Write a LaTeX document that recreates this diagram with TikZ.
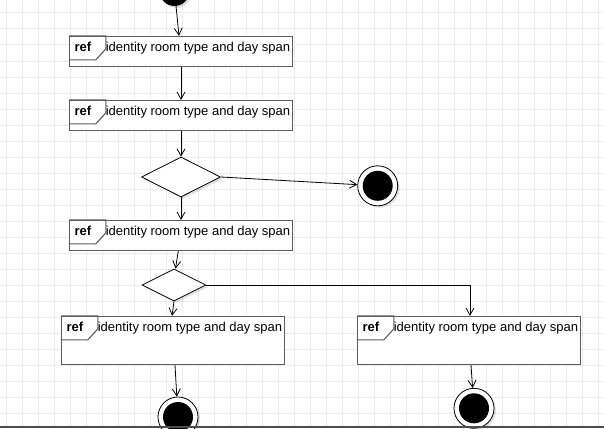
\documentclass[tikz,border=0pt]{standalone}
\usepackage{fontspec}
\setmainfont{Liberation Sans}
\usetikzlibrary{arrows.meta, shapes.geometric, shadows}
\definecolor{gridgray}{HTML}{EBEBEB}
\definecolor{framegray}{HTML}{5C5C5C}
\definecolor{bargray}{HTML}{4D4D4D}
\newcommand{\reflabel}{identity room type and day span}

\begin{document}
\begin{tikzpicture}[
		x=1pt, y=-1pt,
		>={Straight Barb[length=7pt,width=8pt]},
		font=\fontsize{13}{15}\selectfont,
		refbox/.style={rectangle, draw=framegray, line width=1.3pt, fill=white, minimum width=223pt, inner sep=0pt},
		tabline/.style={draw=framegray, line width=1.1pt},
		softshadow/.style={drop shadow={shadow xshift=2pt, shadow yshift=-2pt, fill=black, opacity=0.12}},
		choice/.style={diamond, draw, line width=0.8pt, fill=white, inner sep=0pt, softshadow},
		start/.style={circle, fill=black, minimum size=30pt, inner sep=0pt, softshadow},
		final/.style={circle, draw, line width=0.8pt, fill=white, minimum size=40pt, inner sep=0pt, softshadow,
			path picture={\fill[black] (path picture bounding box.center) circle (15pt);}},
		flow/.style={->, black, line width=0.8pt},
		reftag/.style={anchor=base west, inner sep=0pt, font=\fontsize{13}{15}\selectfont\bfseries},
		reftext/.style={anchor=base west, inner sep=0pt}]

	\useasboundingbox (0,0) rectangle (604,428);

	% grid
	\foreach \gx in {6,22,...,598}
		\draw[gridgray, line width=1pt] (\gx,0) -- (\gx,428);
	\foreach \gy in {13,29,...,413}
		\draw[gridgray, line width=1pt] (0,\gy) -- (604,\gy);

	% nodes
	\node[start] (init) at (174.5,-9) {};
	\node[refbox, minimum height=30pt] (r1) at (181,51.5) {};
	\node[refbox, minimum height=30pt] (r2) at (181,115.5) {};
	\node[choice, minimum width=79pt, minimum height=40pt] (d1) at (181,177) {};
	\node[final] (f1) at (377.7,185.8) {};
	\node[refbox, minimum height=30pt] (r3) at (181,235.5) {};
	\node[choice, minimum width=64pt, minimum height=32pt] (d2) at (174,285) {};
	\node[refbox, minimum height=48pt] (r4) at (173,340.5) {};
	\node[refbox, minimum height=48pt] (r5) at (469,340.5) {};
	\node[final] (f2) at (178,417) {};
	\node[final] (f3) at (474,408.3) {};

	% ref tabs
	\foreach \b in {r1,r2,r3,r4,r5} {
		\draw[tabline] (\b.north west) -- ++(37,0) -- ++(0,13) -- ++(-10,11) -- ++(-27,0);
		\node[reftag] (\b-tag) at ([shift={(5.5,16)}]\b.north west) {ref};
		\node[reftext] (\b-text) at ([shift={(36.8,16)}]\b.north west) {\reflabel};
	}

	% flows
	\draw[flow] (init) -- ([xshift=-2pt]r1.north);
	\draw[flow] (r1) -- (r2);
	\draw[flow] (r2.south) -- (d1.north);
	\draw[flow] (d1.east) -- (f1);
	\draw[flow] (d1.south) -- (r3.north);
	\draw[flow] ([xshift=-2.7pt]r3.south) -- ([xshift=1.5pt]d2.north);
	\draw[flow] (d2.south) -- ([xshift=-1pt]r4.north);
	\draw[flow] (d2.east) -| ([xshift=1pt]r5.north);
	\draw[flow] ([xshift=2pt]r4.south) -- (f2);
	\draw[flow] ([xshift=2pt]r5.south) -- (f3);

	% bottom edge
	\fill[bargray] (0,425.5) rectangle (604,428);
\end{tikzpicture}
\end{document}
